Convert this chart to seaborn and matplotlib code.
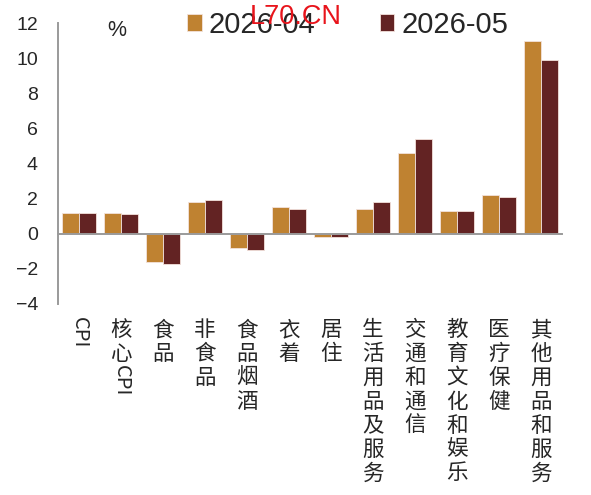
import matplotlib
matplotlib.use('Agg')
import matplotlib.pyplot as plt
import numpy as np
import pandas as pd
import seaborn as sns
from matplotlib.patches import Patch

# data (%)
categories = ['CPI', '核心CPI', '食品', '非食品', '食品烟酒', '衣着', '居住',
              '生活用品及服务', '交通和通信', '教育文化和娱乐', '医疗保健',
              '其他用品和服务']
periods = ['2026-04', '2026-05']
values_04 = [1.2, 1.2, -1.6, 1.8, -0.8, 1.5, -0.2, 1.4, 4.6, 1.3, 2.2, 11.0]
values_05 = [1.2, 1.1, -1.7, 1.9, -0.9, 1.4, -0.2, 1.8, 5.4, 1.3, 2.1, 9.9]
yticks = [-4, -2, 0, 2, 4, 6, 8, 10, 12]

colors = ['#BF8231', '#632323']
axis_gray = '#9a9a9a'

df = pd.DataFrame({
    'cat': categories * 2,
    'val': values_04 + values_05,
    'period': [periods[0]] * len(categories) + [periods[1]] * len(categories),
})

sns.set_style('white')
plt.rcParams['font.family'] = ['Liberation Sans', 'Noto Sans CJK SC', 'DejaVu Sans']
cjk = ['Noto Sans CJK SC', 'DejaVu Sans']

fig = plt.figure(figsize=(5.91, 4.95), dpi=100)
ax = fig.add_axes([58 / 591, 1 - 304 / 495, 504 / 591, 281 / 495])

sns.barplot(data=df, x='cat', y='val', hue='period', palette=colors,
            saturation=1, width=0.8, errorbar=None, edgecolor='#f3e2dc',
            linewidth=0.6, legend=False, ax=ax)

# axes styling
ax.set_ylim(-4, 12)
ax.set_xlim(-0.5, len(categories) - 0.5)
ax.set_yticks(yticks)
ax.set_xlabel('')
ax.set_ylabel('')
for s in ['top', 'right']:
    ax.spines[s].set_visible(False)
ax.spines['bottom'].set_position(('data', 0))
for s in ['left', 'bottom']:
    ax.spines[s].set_color(axis_gray)
    ax.spines[s].set_linewidth(1.4)
ax.tick_params(axis='y', direction='in', length=5, width=1,
               color=axis_gray, pad=14.4, labelsize=14)
ax.set_xticks(np.arange(len(categories)))
ax.set_xticklabels([''] * len(categories))
ax.tick_params(axis='x', which='major', length=0)
ax.set_xticks(np.arange(-0.5, len(categories), 1), minor=True)
ax.tick_params(axis='x', which='minor', direction='in', length=4.5,
               width=1, color=axis_gray)

# vertical category labels: CJK characters stacked upright, Latin runs rotated
top_off = 12.2
pitch = 17.2
for i, label in enumerate(categories):
    off = top_off
    j = 0
    while j < len(label):
        ch = label[j]
        if ch.isascii():
            k = j
            while k < len(label) and label[k].isascii():
                k += 1
            ax.annotate(label[j:k], xy=(i, 0), xycoords=('data', 'axes fraction'),
                        xytext=(0, -(off - 3)), textcoords='offset points',
                        ha='center', va='top', rotation=-90, fontsize=14.5,
                        family=cjk, annotation_clip=False)
            off += 0.8 * 14.5 * (k - j)
            j = k
        else:
            ax.annotate(ch, xy=(i, 0), xycoords=('data', 'axes fraction'),
                        xytext=(0, -(off + 6.6)), textcoords='offset points',
                        ha='center', va='center', fontsize=15.5,
                        family=cjk, annotation_clip=False)
            off += pitch
            j += 1

# unit label
ax.text((117 - 58) / 504, (304 - 30) / 281, '%', transform=ax.transAxes,
        ha='center', va='center', fontsize=15.5)

# legend
handles = [Patch(facecolor=c, edgecolor='#f3e2dc', linewidth=0.6) for c in colors]
fig.legend(handles, periods, loc='center left',
           bbox_to_anchor=(187 / 591, 1 - 25 / 495), ncol=2, frameon=False,
           fontsize=21, handlelength=0.5, handleheight=0.5,
           handletextpad=0.24, columnspacing=2.2, borderpad=0,
           borderaxespad=0)

# red watermark text
fig.text(296 / 591, 1 - 16.5 / 495, 'L70.CN', color='#e8141b', fontsize=19.5,
         ha='center', va='center', zorder=10)

fig.savefig('out.png', dpi=100, facecolor='white')
